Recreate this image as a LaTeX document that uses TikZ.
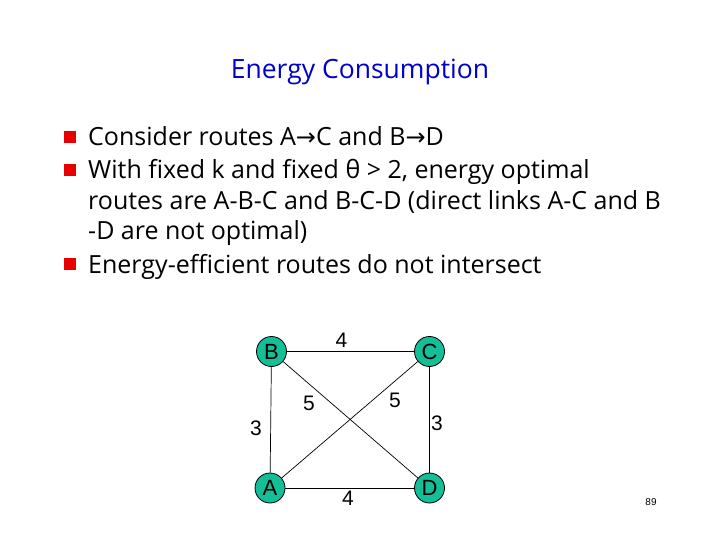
\documentclass[tikz,border=0pt]{standalone}
\usepackage{fontspec}
\setmainfont{Open Sans}
\newfontfamily\graphfont{Liberation Sans}
\newfontfamily\symfont{DejaVu Sans}
\definecolor{titleblue}{RGB}{0,0,204}
\definecolor{nodegreen}{RGB}{20,190,150}
\definecolor{bulletred}{RGB}{230,0,0}
\tikzset{
  vertex/.style={circle,draw=black,line width=0.8pt,fill=nodegreen,minimum size=30pt,inner sep=0pt,font=\graphfont\fontsize{22}{22}\selectfont},
  edge/.style={draw=black,line width=0.7pt},
  wlabel/.style={font=\graphfont\fontsize{21}{21}\selectfont,inner sep=0pt},
  bodytext/.style={anchor=base west,inner sep=0pt,font=\fontsize{25}{25}\selectfont},
  bullet/.style={fill=bulletred,minimum size=12pt,inner sep=0pt,draw=none}
}
\newcommand{\arr}{{\symfont\fontsize{24}{24}\selectfont →}}
\begin{document}
\begin{tikzpicture}[x=1pt,y=-1pt]
\useasboundingbox (0,0) rectangle (720,540);
\fill[white] (0,0) rectangle (720,540);
\node[font=\fontsize{26.5}{26.5}\selectfont,text=titleblue,anchor=base] (title) at (360,79) {Energy Consumption};
% bullets
\node[bullet] (b1) at (70,137) {};
\node[bullet] (b2) at (70,170) {};
\node[bullet] (b3) at (70,264) {};
\node[bodytext] (l1) at (88,146) {Consider routes A\arr C and B\arr D};
\node[bodytext] (l2) at (88,179) {With fixed k and fixed θ > 2, energy optimal};
\node[bodytext] (l3) at (88,210) {routes are A-B-C and B-C-D (direct links A-C and B};
\node[bodytext] (l4) at (88,240) {-D are not optimal)};
\node[bodytext] (l5) at (88,273) {Energy-efficient routes do not intersect};
% graph
\node[vertex] (B) at (271.5,351.5) {B};
\node[vertex] (C) at (429.5,351.5) {C};
\node[vertex] (A) at (270,488) {A};
\node[vertex] (D) at (429.5,488) {D};
\draw[edge] (B) -- (C);
\draw[edge] (A) -- (D);
\draw[edge] (A) -- (B);
\draw[edge] (C) -- (D);
\draw[edge] (B) -- (D);
\draw[edge] (A) -- (C);
\node[wlabel] (w1) at (341.5,340) {4};
\node[wlabel] (w2) at (348,498) {4};
\node[wlabel] (w3) at (256,428) {3};
\node[wlabel] (w4) at (437,423) {3};
\node[wlabel] (w5) at (309,403) {5};
\node[wlabel] (w6) at (395,400) {5};
\node[font=\graphfont\fontsize{10}{10}\selectfont,inner sep=0pt] (pg) at (651,502) {89};
\end{tikzpicture}
\end{document}
